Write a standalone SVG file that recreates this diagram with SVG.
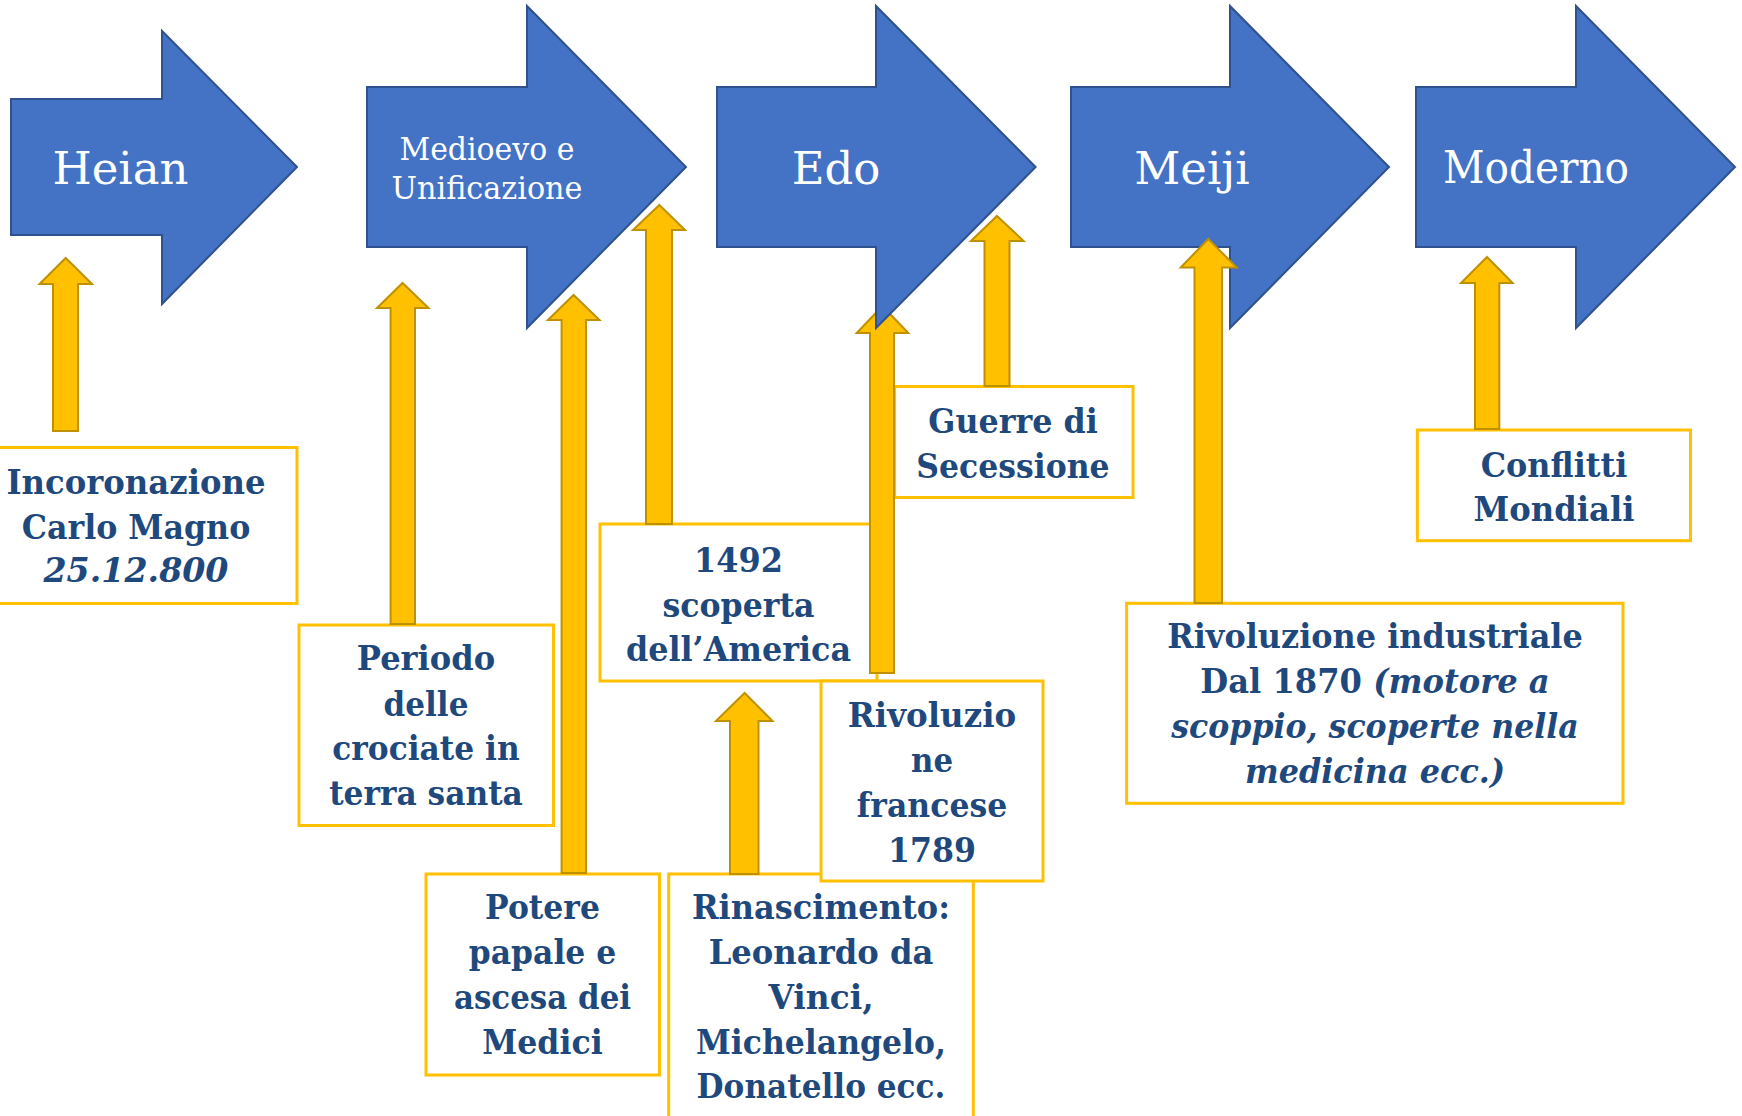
<svg xmlns="http://www.w3.org/2000/svg" width="1742" height="1116" viewBox="0 0 1742 1116">
<style>
.blue{fill:#4472C4;stroke:#2F528F;stroke-width:2;stroke-linejoin:miter}
.lbl{font-family:"DejaVu Serif","Liberation Serif",serif;fill:#FFFFFF;text-anchor:middle}
.big{font-size:45px}
.small{font-size:31px}
.box{fill:#FFFFFF;stroke:#FFC000;stroke-width:3}
.txt{font-family:"DejaVu Serif","Liberation Serif",serif;font-weight:bold;font-size:34px;fill:#1F497D;text-anchor:middle}
.it{font-style:italic}
.up{fill:#FFC000;stroke:#BF9000;stroke-width:2;stroke-linejoin:miter}
</style>
<rect width="1742" height="1116" fill="#FFFFFF"/>

<g id="nodes-periods-a">
<g id="heian"><polygon class="blue" points="11,99 162,99 162,31 297,167 162,304 162,235 11,235"/><text class="lbl big" x="120.5" y="184">Heian</text></g>
<g id="medioevo"><polygon class="blue" points="367,87 527,87 527,6 686,167 527,328 527,247 367,247"/><text class="lbl small" x="487" y="160" textLength="175" lengthAdjust="spacingAndGlyphs">Medioevo e</text><text class="lbl small" x="487" y="199" textLength="191" lengthAdjust="spacingAndGlyphs">Unificazione</text></g>
<g id="meiji"><polygon class="blue" points="1071,87 1230,87 1230,6 1389,167 1230,328 1230,247 1071,247"/><text class="lbl big" x="1192" y="184">Meiji</text></g>
<g id="moderno"><polygon class="blue" points="1416,87 1576,87 1576,6 1735,167 1576,328 1576,247 1416,247"/><text class="lbl big" x="1536" y="183" textLength="186" lengthAdjust="spacingAndGlyphs">Moderno</text></g>
</g>

<g id="nodes-events">
<g id="incoronazione"><rect class="box" x="-10" y="447.5" width="307" height="156"/><text class="txt" x="136" y="494" textLength="259" lengthAdjust="spacingAndGlyphs">Incoronazione</text><text class="txt" x="136" y="539" textLength="228.6" lengthAdjust="spacingAndGlyphs">Carlo Magno</text><text class="txt it" x="136" y="582" textLength="185" lengthAdjust="spacingAndGlyphs">25.12.800</text></g>
<g id="crociate"><rect class="box" x="299" y="625" width="254.5" height="200.5"/><text class="txt" x="426" y="670" textLength="138.4" lengthAdjust="spacingAndGlyphs">Periodo</text><text class="txt" x="426" y="715.5" textLength="84.8" lengthAdjust="spacingAndGlyphs">delle</text><text class="txt" x="426" y="760" textLength="187.5" lengthAdjust="spacingAndGlyphs">crociate in</text><text class="txt" x="426" y="805" textLength="193.7" lengthAdjust="spacingAndGlyphs">terra santa</text></g>
<g id="america"><rect class="box" x="600" y="524" width="277" height="157"/><text class="txt" x="738.5" y="571.7" textLength="88.8" lengthAdjust="spacingAndGlyphs">1492</text><text class="txt" x="738.5" y="616.7" textLength="152" lengthAdjust="spacingAndGlyphs">scoperta</text><text class="txt" x="738.5" y="661" textLength="225" lengthAdjust="spacingAndGlyphs">dell’America</text></g>
<g id="secessione"><rect class="box" x="894.6" y="386.5" width="238.4" height="111"/><text class="txt" x="1013" y="432.7" textLength="169.5" lengthAdjust="spacingAndGlyphs">Guerre di</text><text class="txt" x="1013" y="477.7" textLength="193.3" lengthAdjust="spacingAndGlyphs">Secessione</text></g>
<g id="potere"><rect class="box" x="426" y="874" width="233.5" height="201"/><text class="txt" x="542.5" y="919.3" textLength="114.8" lengthAdjust="spacingAndGlyphs">Potere</text><text class="txt" x="542.5" y="964.3" textLength="147.3" lengthAdjust="spacingAndGlyphs">papale e</text><text class="txt" x="542.5" y="1009.3" textLength="177.2" lengthAdjust="spacingAndGlyphs">ascesa dei</text><text class="txt" x="542.5" y="1054" textLength="120.5" lengthAdjust="spacingAndGlyphs">Medici</text></g>
<g id="rinascimento"><rect class="box" x="668.7" y="874" width="304.6" height="260"/><text class="txt" x="821" y="919.3" textLength="258" lengthAdjust="spacingAndGlyphs">Rinascimento:</text><text class="txt" x="821" y="964.3" textLength="224.7" lengthAdjust="spacingAndGlyphs">Leonardo da</text><text class="txt" x="821" y="1009.3" textLength="105.2" lengthAdjust="spacingAndGlyphs">Vinci,</text><text class="txt" x="821" y="1054" textLength="249.9" lengthAdjust="spacingAndGlyphs">Michelangelo,</text><text class="txt" x="821" y="1098.3" textLength="248.8" lengthAdjust="spacingAndGlyphs">Donatello ecc.</text></g>
<g id="francese"><rect class="box" x="821" y="681" width="222" height="200"/><text class="txt" x="932" y="726.7" textLength="168.4" lengthAdjust="spacingAndGlyphs">Rivoluzio</text><text class="txt" x="932" y="771.7" textLength="42" lengthAdjust="spacingAndGlyphs">ne</text><text class="txt" x="932" y="816.7" textLength="150.4" lengthAdjust="spacingAndGlyphs">francese</text><text class="txt" x="932" y="861.7" textLength="88" lengthAdjust="spacingAndGlyphs">1789</text></g>
<g id="industriale"><rect class="box" x="1126.6" y="603.3" width="496.4" height="200"/><text class="txt" x="1375" y="648.3" textLength="415.6" lengthAdjust="spacingAndGlyphs">Rivoluzione industriale</text><text class="txt" x="1375" y="693.3" textLength="349.3" lengthAdjust="spacingAndGlyphs">Dal 1870 <tspan class="it">(motore a</tspan></text><text class="txt it" x="1375" y="738.3" textLength="407.4" lengthAdjust="spacingAndGlyphs">scoppio, scoperte nella</text><text class="txt it" x="1375" y="782.7" textLength="260" lengthAdjust="spacingAndGlyphs">medicina ecc.)</text></g>
<g id="conflitti"><rect class="box" x="1417.4" y="430" width="273.1" height="110.7"/><text class="txt" x="1554" y="476.7" textLength="146.6" lengthAdjust="spacingAndGlyphs">Conflitti</text><text class="txt" x="1554" y="521" textLength="161" lengthAdjust="spacingAndGlyphs">Mondiali</text></g>
</g>

<g id="connectors">
<polygon class="up" points="65.7,258 92,284 78,284 78,431 53,431 53,284 39.5,284"/>
<polygon class="up" points="402.6,283 428.5,308 415,308 415,624 390.6,624 390.6,308 377,308"/>
<polygon class="up" points="573.6,295 599.5,320 586,320 586,873 561.6,873 561.6,320 548,320"/>
<polygon class="up" points="659.4,205 685,230 672,230 672,524 646,524 646,230 633,230"/>
<polygon class="up" points="882.5,306 908.3,333 894,333 894,673 870,673 870,333 856.7,333"/>
<polygon class="up" points="997,216 1023.6,241 1009.5,241 1009.5,386 984.5,386 984.5,241 971,241"/>
<polygon class="up" points="1208.3,239 1236.7,267.5 1222,267.5 1222,603 1194.5,603 1194.5,267.5 1180.7,267.5"/>
<polygon class="up" points="1487,257 1512.6,283 1499.3,283 1499.3,429 1475,429 1475,283 1461,283"/>
<polygon class="up" points="744.6,693 772.5,721 758.5,721 758.5,874 730,874 730,721 716,721"/>
</g>

<g id="nodes-periods-b">
<g id="edo"><polygon class="blue" points="717,87 876,87 876,6 1035.6,167 876,328 876,247 717,247"/><text class="lbl big" x="836" y="184">Edo</text></g>
</g>
</svg>
